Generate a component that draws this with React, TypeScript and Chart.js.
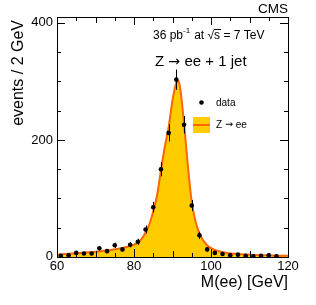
import { useEffect, useRef } from "react";
import { Chart, registerables } from "chart.js";

Chart.register(...registerables);

// Data points (M(ee) bin centres, events / 2 GeV, stat. errors)
const dataMass = [61, 63, 65, 67, 69, 71, 73, 75, 77, 79, 81, 83, 85, 87, 89, 91, 93, 95, 97, 99, 101, 103, 105, 107, 109, 111, 113, 115, 117];
const dataValues = [2, 3, 7, 6, 6, 15, 10, 20, 13, 21, 26, 47, 85, 150, 212, 303, 226, 88, 37, 13, 7, 5, 3, 4, 2, 1, 2, 3, 1];
const dataErrors = [1.4, 1.7, 2.6, 2.4, 2.4, 3.9, 3.2, 4.5, 3.6, 4.6, 5.1, 6.9, 9.2, 12.2, 14.6, 17.4, 15, 9.4, 6.1, 3.6, 2.6, 2.2, 1.7, 2, 1.4, 1, 1.4, 1.7, 1];

// Z -> ee simulation curve
const mcMass = [60, 62, 64, 66, 68, 70, 72, 74, 76, 78, 80, 81, 82, 83, 84, 85, 86, 87, 88, 89, 90, 91, 91.5, 92, 93, 94, 95, 96, 97, 98, 99, 100, 101, 102, 104, 106, 108, 110, 114, 120];
const mcValues = [4, 5, 6, 7, 8, 9, 10.5, 12, 14, 17, 21, 25, 31, 42, 56, 78, 106, 148, 188, 222, 268, 298, 301, 288, 228, 155, 94, 60, 40, 28, 20, 15, 12, 10, 7, 5.5, 4.5, 3.8, 3, 2];

const xLabels = [60, 80, 100, 120];
const yLabels = [0, 200, 400];

const FONT = '"Liberation Sans", Arial, sans-serif';
const ARROW_FONT = '"DejaVu Sans", sans-serif';

function drawParts(ctx: any, parts: [string, boolean][], x: number, y: number, size: number) {
  let cx = x;
  parts.forEach(([t, arrow]) => {
    ctx.font = `${arrow ? size * 0.95 : size}px ${arrow ? ARROW_FONT : FONT}`;
    ctx.fillText(t, cx, y);
    cx += ctx.measureText(t).width;
  });
}

const decorPlugin = {
  id: "decor",
  afterDatasetsDraw(chart: any) {
    const ctx = chart.ctx;
    const xs = chart.scales.x;
    const ys = chart.scales.y;
    ctx.save();
    ctx.strokeStyle = "#000";
    ctx.lineWidth = 1;
    ctx.beginPath();
    dataMass.forEach((m, i) => {
      const x = Math.round(xs.getPixelForValue(m)) + 0.5;
      ctx.moveTo(x, ys.getPixelForValue(dataValues[i] - dataErrors[i]));
      ctx.lineTo(x, ys.getPixelForValue(dataValues[i] + dataErrors[i]));
    });
    ctx.stroke();
    ctx.restore();
  },
  afterDraw(chart: any) {
    const ctx = chart.ctx;
    const a = chart.chartArea;
    const xs = chart.scales.x;
    const ys = chart.scales.y;
    ctx.save();
    ctx.strokeStyle = "#000";
    ctx.lineWidth = 1;
    // frame
    ctx.strokeRect(Math.round(a.left) + 0.5, Math.round(a.top) + 0.5, Math.round(a.right - a.left), Math.round(a.bottom - a.top));
    ctx.beginPath();
    // x ticks
    for (let v = 60; v <= 120; v += 5) {
      const x = Math.round(xs.getPixelForValue(v)) + 0.5;
      const len = v % 20 === 0 ? 8 : v % 10 === 0 ? 6 : 4;
      ctx.moveTo(x, a.bottom);
      ctx.lineTo(x, a.bottom - len);
      ctx.moveTo(x, a.top);
      ctx.lineTo(x, a.top + len);
    }
    // y ticks
    for (let v = 0; v <= 400; v += 50) {
      const y = Math.round(ys.getPixelForValue(v)) + 0.5;
      const len = v % 200 === 0 ? 8 : 4;
      ctx.moveTo(a.left, y);
      ctx.lineTo(a.left + len, y);
      ctx.moveTo(a.right, y);
      ctx.lineTo(a.right - len, y);
    }
    ctx.stroke();

    ctx.fillStyle = "#000";
    // tick labels
    ctx.font = `13px ${FONT}`;
    ctx.textAlign = "right";
    ctx.textBaseline = "middle";
    yLabels.forEach((v) => {
      ctx.fillText(String(v), a.left - 4, ys.getPixelForValue(v) + (v === 0 ? -1 : 0));
    });
    ctx.textAlign = "center";
    ctx.textBaseline = "top";
    xLabels.forEach((v) => {
      ctx.fillText(String(v), xs.getPixelForValue(v), a.bottom + 3);
    });

    // axis titles
    ctx.font = `16px ${FONT}`;
    ctx.textAlign = "right";
    ctx.textBaseline = "middle";
    ctx.fillText("M(ee) [GeV]", a.right, 283);
    ctx.save();
    ctx.translate(19, 20);
    ctx.rotate(-Math.PI / 2);
    ctx.fillText("events / 2 GeV", 0, 0);
    ctx.restore();

    // CMS label
    ctx.font = `13.5px ${FONT}`;
    ctx.textAlign = "right";
    ctx.fillText("CMS", a.right, 9);

    // luminosity text
    ctx.textAlign = "left";
    ctx.font = `12px ${FONT}`;
    let x = 153;
    ctx.fillText("36 pb", x, 36);
    x += ctx.measureText("36 pb").width;
    ctx.font = `8px ${FONT}`;
    ctx.fillText("-1", x, 31);
    x += ctx.measureText("-1").width + 4;
    ctx.font = `12px ${FONT}`;
    ctx.fillText("at \u221As = 7 TeV", x, 36);
    const sx = x + ctx.measureText("at \u221A").width;
    const sw = ctx.measureText("s").width;
    ctx.beginPath();
    ctx.moveTo(sx, 29.5);
    ctx.lineTo(sx + sw + 1, 29.5);
    ctx.stroke();

    // channel label
    drawParts(ctx, [["Z ", false], ["\u2192", true], [" ee + 1 jet", false]], 155, 62, 15);

    // legend
    ctx.beginPath();
    ctx.arc(201.5, 102.5, 2.3, 0, Math.PI * 2);
    ctx.fill();
    ctx.fillStyle = "#ffcc00";
    ctx.fillRect(193, 117, 17, 16);
    ctx.strokeStyle = "#ff6600";
    ctx.lineWidth = 2;
    ctx.beginPath();
    ctx.moveTo(193, 125);
    ctx.lineTo(210, 125);
    ctx.stroke();
    ctx.fillStyle = "#000";
    ctx.font = `10px ${FONT}`;
    ctx.fillText("data", 216, 103);
    drawParts(ctx, [["Z ", false], ["\u2192", true], [" ee", false]], 216, 125, 10);
    ctx.restore();
  },
};

export default function App() {
  const ref = useRef<HTMLCanvasElement>(null);
  useEffect(() => {
    const chart = new Chart(ref.current!, {
      type: "scatter",
      data: {
        datasets: [
          {
            type: "line",
            label: "Z \u2192 ee",
            data: mcMass.map((m, i) => ({ x: m, y: mcValues[i] })),
            borderColor: "#ff6600",
            borderWidth: 2,
            backgroundColor: "#ffcc00",
            fill: "origin",
            pointRadius: 0,
            cubicInterpolationMode: "monotone",
            order: 2,
          } as any,
          {
            type: "scatter",
            label: "data",
            data: dataMass.map((m, i) => ({ x: m, y: dataValues[i] })),
            backgroundColor: "#000",
            borderColor: "#000",
            borderWidth: 0,
            pointRadius: 2.3,
            order: 1,
          },
        ],
      },
      options: {
        responsive: false,
        animation: false,
        layout: { padding: { left: 57, right: 28, top: 17, bottom: 48 } },
        scales: {
          x: { type: "linear", min: 60, max: 120, display: false },
          y: { type: "linear", min: 0, max: 410, display: false },
        },
        plugins: { legend: { display: false }, tooltip: { enabled: false } },
      },
      plugins: [decorPlugin],
    });
    return () => chart.destroy();
  }, []);
  return (
    <div style={{ position: "fixed", left: 0, top: 0, width: 316, height: 305, background: "#fff" }}>
      <canvas ref={ref} width={316} height={305} style={{ width: 316, height: 305, display: "block" }} />
    </div>
  );
}
